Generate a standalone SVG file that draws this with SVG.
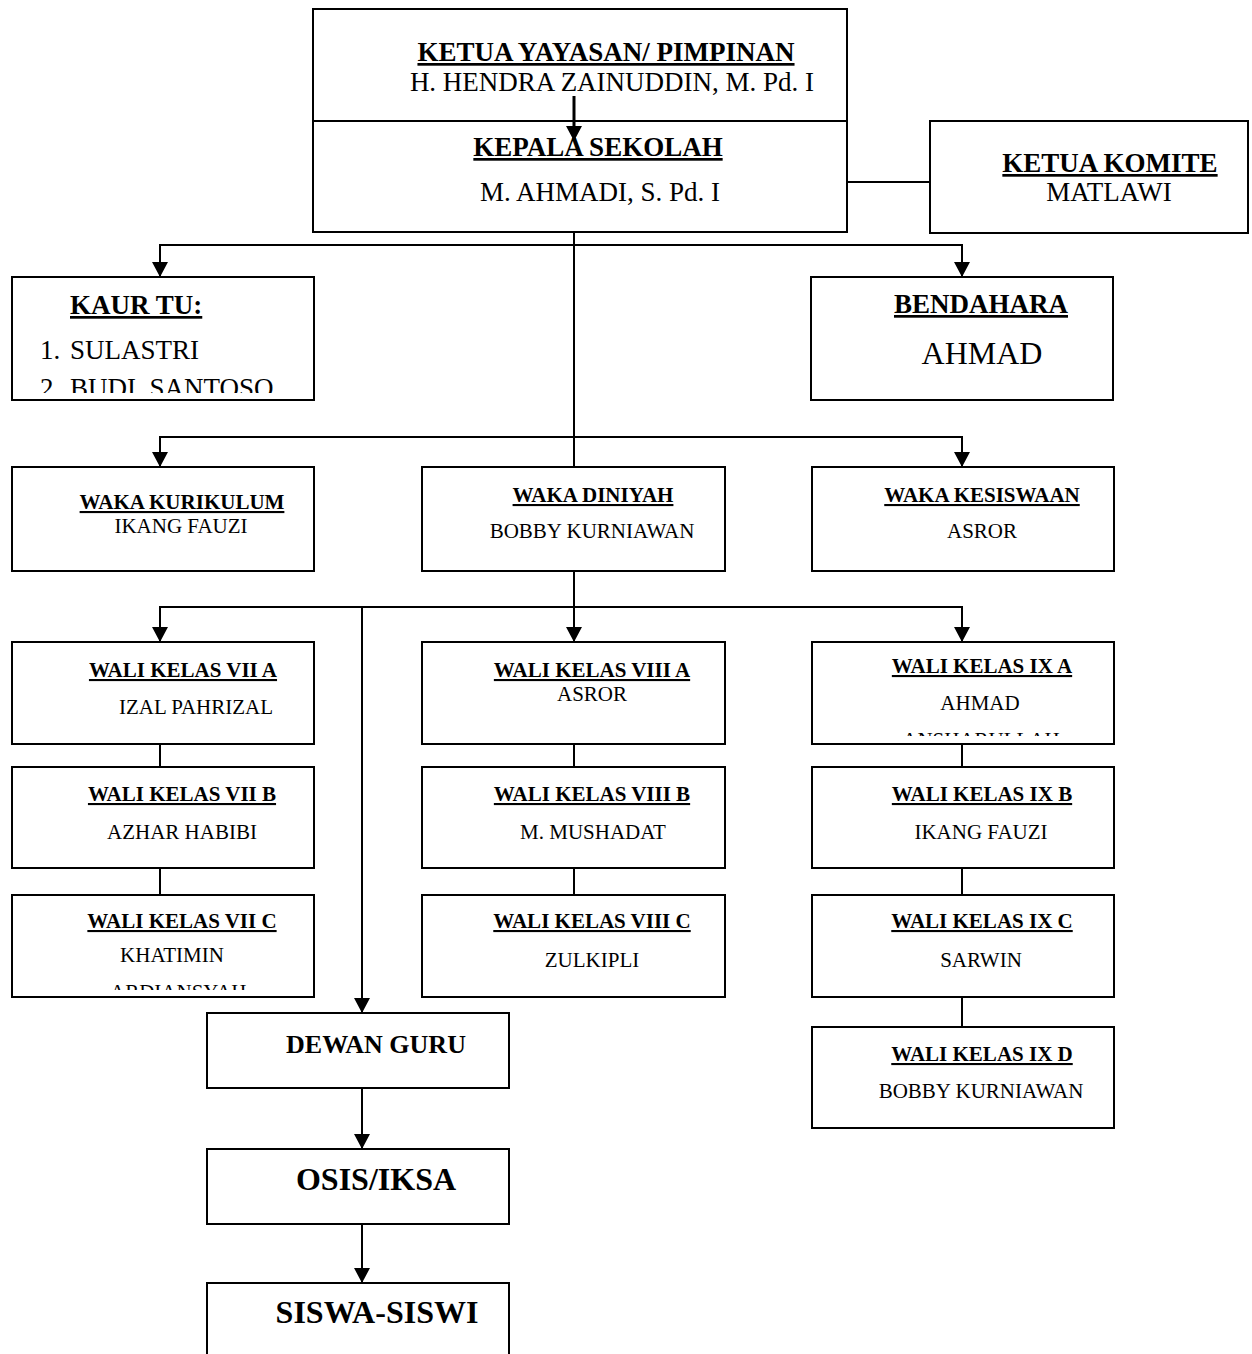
<svg xmlns="http://www.w3.org/2000/svg" width="1252" height="1354" viewBox="0 0 1252 1354">
<style>
.box{fill:#fff;stroke:#000;stroke-width:2}
.ln{fill:none;stroke:#000;stroke-width:2}
.arr{marker-end:url(#ah)}
text{font-family:"Liberation Serif","Times New Roman",serif;fill:#000}
.h{font-weight:bold;text-decoration:underline}
.b{font-weight:bold}
.c{text-anchor:middle}
.f27{font-size:27px}
.f21{font-size:21px}
.f26{font-size:26px}
.f32{font-size:32px}
</style>
<defs>
<marker id="ah" markerUnits="userSpaceOnUse" markerWidth="16" markerHeight="16" refX="15" refY="8" orient="auto">
<path d="M0,0 L15,8 L0,16 z" fill="#000"/>
</marker>
<clipPath id="cKaur"><rect x="12" y="277" width="302" height="116"/></clipPath>
<clipPath id="cVIIC"><rect x="12" y="895" width="302" height="95"/></clipPath>
<clipPath id="cIXA"><rect x="812" y="642" width="302" height="94"/></clipPath>
</defs>

<g id="ketua-yayasan">
<rect class="box" x="313" y="9" width="534" height="112"/>
<text class="h f27 c" x="606" y="61">KETUA YAYASAN/ PIMPINAN</text>
<text class="f27 c" x="612" y="91">H. HENDRA ZAINUDDIN, M. Pd. I</text>
</g>
<g id="kepala-sekolah">
<rect class="box" x="313" y="121" width="534" height="111"/>
<text class="h f27 c" x="598" y="156">KEPALA SEKOLAH</text>
<text class="f27 c" x="600" y="201">M. AHMADI, S. Pd. I</text>
</g>
<g id="ketua-komite">
<rect class="box" x="930" y="121" width="318" height="112"/>
<text class="h f27 c" x="1110" y="172">KETUA KOMITE</text>
<text class="f27 c" x="1109" y="201">MATLAWI</text>
</g>
<g id="kaur-tu">
<rect class="box" x="12" y="277" width="302" height="123"/>
<text class="h f27" x="70" y="314">KAUR TU:</text>
<g clip-path="url(#cKaur)">
<text class="f27" y="359"><tspan x="40">1.</tspan><tspan x="70">SULASTRI</tspan></text>
<text class="f27" y="397" xml:space="preserve"><tspan x="40">2.</tspan><tspan x="70">BUDI  SANTOSO</tspan></text>
</g>
</g>
<g id="bendahara">
<rect class="box" x="811" y="277" width="302" height="123"/>
<text class="h f27 c" x="981" y="313">BENDAHARA</text>
<text class="f32 c" x="982" y="364">AHMAD</text>
</g>
<g id="waka-kurikulum">
<rect class="box" x="12" y="467" width="302" height="104"/>
<text class="h f21 c" x="182" y="509">WAKA KURIKULUM</text>
<text class="f21 c" x="181" y="533">IKANG FAUZI</text>
</g>
<g id="waka-diniyah">
<rect class="box" x="422" y="467" width="303" height="104"/>
<text class="h f21 c" x="593" y="502">WAKA DINIYAH</text>
<text class="f21 c" x="592" y="538">BOBBY KURNIAWAN</text>
</g>
<g id="waka-kesiswaan">
<rect class="box" x="812" y="467" width="302" height="104"/>
<text class="h f21 c" x="982" y="502">WAKA KESISWAAN</text>
<text class="f21 c" x="982" y="538">ASROR</text>
</g>

<g id="wali-7a">
<rect class="box" x="12" y="642" width="302" height="102"/>
<text class="h f21 c" x="183" y="677">WALI KELAS VII A</text>
<text class="f21 c" x="196" y="714">IZAL PAHRIZAL</text>
</g>
<g id="wali-7b">
<rect class="box" x="12" y="767" width="302" height="101"/>
<text class="h f21 c" x="182" y="801">WALI KELAS VII B</text>
<text class="f21 c" x="182" y="839">AZHAR HABIBI</text>
</g>
<g id="wali-7c">
<rect class="box" x="12" y="895" width="302" height="102"/>
<text class="h f21 c" x="182" y="928">WALI KELAS VII C</text>
<text class="f21 c" x="172" y="962">KHATIMIN</text>
<text class="f21" x="110" y="999" clip-path="url(#cVIIC)">ARDIANSYAH</text>
</g>
<g id="wali-8a">
<rect class="box" x="422" y="642" width="303" height="102"/>
<text class="h f21 c" x="592" y="677">WALI KELAS VIII A</text>
<text class="f21 c" x="592" y="701">ASROR</text>
</g>
<g id="wali-8b">
<rect class="box" x="422" y="767" width="303" height="101"/>
<text class="h f21 c" x="592" y="801">WALI KELAS VIII B</text>
<text class="f21 c" x="593" y="839">M. MUSHADAT</text>
</g>
<g id="wali-8c">
<rect class="box" x="422" y="895" width="303" height="102"/>
<text class="h f21 c" x="592" y="928">WALI KELAS VIII C</text>
<text class="f21 c" x="592" y="967">ZULKIPLI</text>
</g>
<g id="wali-9a">
<rect class="box" x="812" y="642" width="302" height="102"/>
<text class="h f21 c" x="982" y="673">WALI KELAS IX A</text>
<text class="f21 c" x="980" y="710">AHMAD</text>
<text class="f21 c" x="981" y="747" clip-path="url(#cIXA)">ANSHARULLAH</text>
</g>
<g id="wali-9b">
<rect class="box" x="812" y="767" width="302" height="101"/>
<text class="h f21 c" x="982" y="801">WALI KELAS IX B</text>
<text class="f21 c" x="981" y="839">IKANG FAUZI</text>
</g>
<g id="wali-9c">
<rect class="box" x="812" y="895" width="302" height="102"/>
<text class="h f21 c" x="982" y="928">WALI KELAS IX C</text>
<text class="f21 c" x="981" y="967">SARWIN</text>
</g>
<g id="wali-9d">
<rect class="box" x="812" y="1027" width="302" height="101"/>
<text class="h f21 c" x="982" y="1061">WALI KELAS IX D</text>
<text class="f21 c" x="981" y="1098">BOBBY KURNIAWAN</text>
</g>

<g id="dewan-guru">
<rect class="box" x="207" y="1013" width="302" height="75"/>
<text class="b f26 c" x="376" y="1053">DEWAN GURU</text>
</g>
<g id="osis">
<rect class="box" x="207" y="1149" width="302" height="75"/>
<text class="b f32 c" x="376" y="1190">OSIS/IKSA</text>
</g>
<g id="siswa">
<rect class="box" x="207" y="1283" width="302" height="100"/>
<text class="b f32 c" x="377" y="1323">SISWA-SISWI</text>
</g>

<g id="connectors">
<line class="ln arr" x1="574" y1="96" x2="574" y2="141" style="stroke-width:3"/>
<line class="ln" x1="847" y1="182" x2="930" y2="182"/>
<line class="ln" x1="574" y1="232" x2="574" y2="467"/>
<line class="ln" x1="160" y1="245" x2="962" y2="245"/>
<line class="ln arr" x1="160" y1="244" x2="160" y2="277"/>
<line class="ln arr" x1="962" y1="244" x2="962" y2="277"/>
<line class="ln" x1="160" y1="437" x2="962" y2="437"/>
<line class="ln arr" x1="160" y1="436" x2="160" y2="467"/>
<line class="ln arr" x1="962" y1="436" x2="962" y2="467"/>
<line class="ln arr" x1="574" y1="571" x2="574" y2="642"/>
<line class="ln" x1="160" y1="607" x2="962" y2="607"/>
<line class="ln arr" x1="160" y1="606" x2="160" y2="642"/>
<line class="ln arr" x1="962" y1="606" x2="962" y2="642"/>
<line class="ln arr" x1="362" y1="607" x2="362" y2="1013"/>
<line class="ln" x1="160" y1="744" x2="160" y2="767"/>
<line class="ln" x1="160" y1="868" x2="160" y2="895"/>
<line class="ln" x1="574" y1="744" x2="574" y2="767"/>
<line class="ln" x1="574" y1="868" x2="574" y2="895"/>
<line class="ln" x1="962" y1="744" x2="962" y2="767"/>
<line class="ln" x1="962" y1="868" x2="962" y2="895"/>
<line class="ln" x1="962" y1="997" x2="962" y2="1027"/>
<line class="ln arr" x1="362" y1="1088" x2="362" y2="1149"/>
<line class="ln arr" x1="362" y1="1224" x2="362" y2="1283"/>
</g>
</svg>
